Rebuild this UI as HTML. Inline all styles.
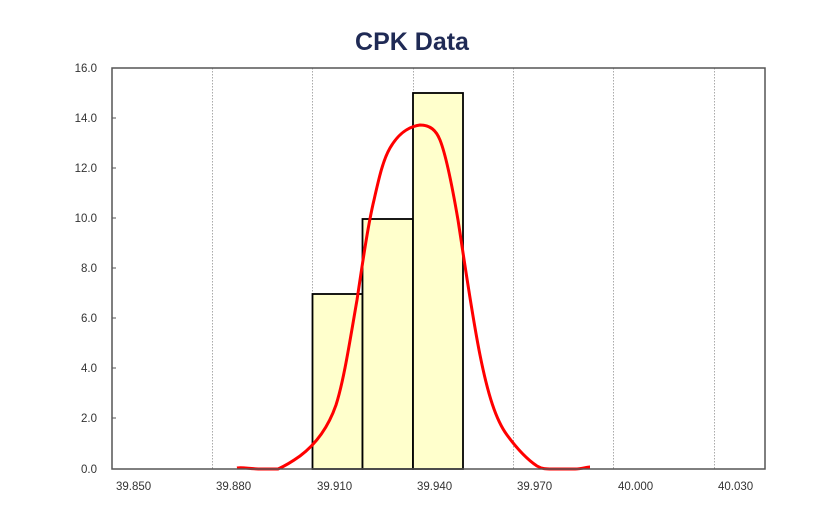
<!DOCTYPE html>
<html><head><meta charset="utf-8"><style>
body{margin:0;background:#fff}
svg text{font-family:"Liberation Sans",sans-serif}
</style></head><body>
<svg width="825" height="510" viewBox="0 0 825 510" xmlns="http://www.w3.org/2000/svg">
<rect width="825" height="510" fill="#fff"/>
<text x="412" y="50" text-anchor="middle" font-size="25" font-weight="bold" fill="#1f2a55">CPK Data</text>
<g stroke="#aaa" stroke-width="1" stroke-dasharray="1.5,1.5">
<line x1="212.5" y1="68" x2="212.5" y2="469"/><line x1="312.5" y1="68" x2="312.5" y2="469"/><line x1="413.5" y1="68" x2="413.5" y2="469"/><line x1="513.5" y1="68" x2="513.5" y2="469"/><line x1="613.5" y1="68" x2="613.5" y2="469"/><line x1="714.5" y1="68" x2="714.5" y2="469"/>
</g>
<g fill="#ffffcc" stroke="#000" stroke-width="1.8">
<rect x="312.5" y="294" width="50" height="175"/>
<rect x="362.5" y="219" width="50.5" height="250"/>
<rect x="413" y="93" width="50" height="376"/>
</g>
<path d="M237,468 C243,467 250,469 262,469 L278,469 C287,465 293,461 300,456 C316,444 328,428 336,405 C344,380 350,340 357,300 C363,260 368,225 374,200 C379,178 383,160 390,148 C397,136 406,127 420,125 C430,125 436,130 440,140 C446,155 452,185 458,220 C465,265 472,315 480,355 C488,395 496,420 507,435 C518,450 528,460 537,466 C542,469 546,469 552,469 L575,469 C582,469 586,467 590,467" fill="none" stroke="#f00" stroke-width="3"/>
<rect x="112" y="68" width="653" height="401" fill="none" stroke="#555" stroke-width="1.5"/>
<g stroke="#555" stroke-width="1">
<line x1="112" y1="118" x2="116" y2="118"/><line x1="112" y1="168" x2="116" y2="168"/><line x1="112" y1="218" x2="116" y2="218"/><line x1="112" y1="268" x2="116" y2="268"/><line x1="112" y1="318" x2="116" y2="318"/><line x1="112" y1="368" x2="116" y2="368"/><line x1="112" y1="418" x2="116" y2="418"/>
</g>
<g font-size="11.5" fill="#333" text-anchor="end">
<text x="97" y="72">16.0</text><text x="97" y="122">14.0</text><text x="97" y="172">12.0</text><text x="97" y="222">10.0</text><text x="97" y="272">8.0</text><text x="97" y="322">6.0</text><text x="97" y="372">4.0</text><text x="97" y="422">2.0</text><text x="97" y="473">0.0</text>
</g>
<g font-size="11.5" fill="#333">
<text x="116" y="490">39.850</text><text x="216" y="490">39.880</text><text x="317" y="490">39.910</text><text x="417" y="490">39.940</text><text x="517" y="490">39.970</text><text x="618" y="490">40.000</text><text x="718" y="490">40.030</text>
</g>
</svg>
</body></html>
